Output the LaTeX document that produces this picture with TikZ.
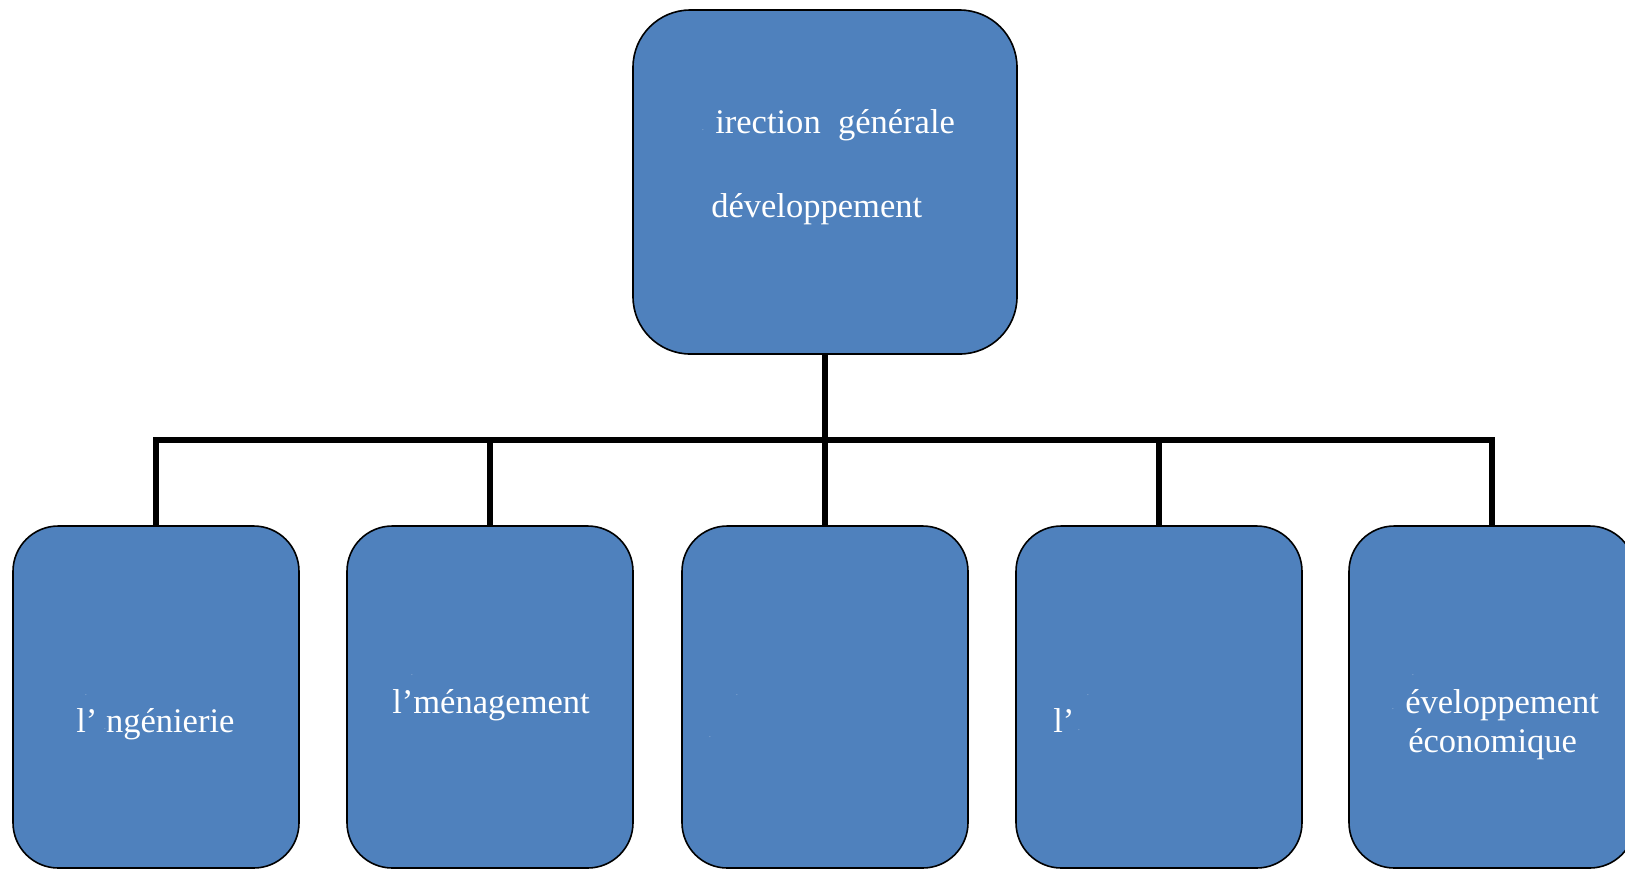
\documentclass[tikz,border=0pt]{standalone}
\usepackage{fontspec}
\setmainfont{Liberation Serif}
\usepackage{tikz}

\tikzset{
  unit/.style={draw=black, line width=1.2pt, fill={rgb,255:red,79;green,129;blue,189},
    rounded corners=34pt, minimum width=214.5pt, minimum height=256.5pt, inner sep=0pt},
  head/.style={unit, rounded corners=43pt, minimum width=288pt, minimum height=258pt},
  link/.style={line width=4pt},
  lbl/.style={anchor=base west, inner sep=0pt, text=white, font=\fontsize{25.9}{29.3}\selectfont},
  speck/.style={inner sep=0pt, text=white, font=\fontsize{4}{4}\selectfont},
}

\begin{document}
\begin{tikzpicture}[x=0.75pt,y=0.75pt,yscale=-1,xscale=1]
        \path[use as bounding box] (0,0) rectangle (1625,869);

        %Rounded Rect [id:head]
        \node[head] (dir) at (825,182) {};
        %Rounded Rects [id:units]
        \node[unit] (ingen) at (156,697) {};
        \node[unit] (amenag) at (490,697) {};
        \node[unit] (unit3) at (825,697) {};
        \node[unit] (unit4) at (1159,697) {};
        \node[unit] (devec) at (1492,697) {};

        %Straight Lines [id:bar]
        \coordinate (bar) at (825,440);
        \draw[link] (dir.south) -- (bar);
        \draw[link] (ingen.north) -- (ingen.north |- bar) -- (devec.north |- bar) -- (devec.north);
        \foreach \u in {amenag,unit3,unit4}
          \draw[link] (\u.north) -- (\u.north |- bar);

        % Text Node
        \node[lbl] (dir-a) at (715,133) {irection\ \ générale};
        % Text Node
        \node[lbl] (dir-b) at (711,217) {développement};
        % Text Node
        \node[lbl] (ingen-t) at (76,732) {l’ ngénierie};
        % Text Node
        \node[lbl] (amenag-t) at (392,713) {l’ménagement};
        % Text Node
        \node[lbl] (unit4-t) at (1053,732) {l’};
        % Text Node
        \node[lbl] (devec-a) at (1405,713) {éveloppement};
        % Text Node
        \node[lbl] (devec-b) at (1408,752) {économique};

        % stray dots left in the labels
        \foreach \x/\y [count=\i] in {703/130, 86/695, 105/729, 412/675, 737/695,
                                      710/737, 1088/695, 1079/730, 1413/675, 1393/709}
          \node[speck] (dot\i) at (\x,\y) {.};

\end{tikzpicture}
\end{document}
